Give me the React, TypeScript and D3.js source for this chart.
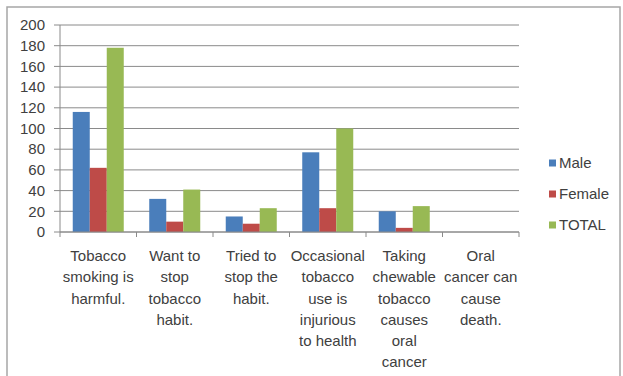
import React from "react";
import * as d3 from "d3";

const categories = [
  "Tobacco smoking is harmful.",
  "Want to stop tobacco habit.",
  "Tried to stop the habit.",
  "Occasional tobacco use is injurious to health",
  "Taking chewable tobacco causes oral cancer",
  "Oral cancer can cause death.",
];
const categoryLines = [
  ["Tobacco", "smoking is", "harmful."],
  ["Want to", "stop", "tobacco", "habit."],
  ["Tried to", "stop the", "habit."],
  ["Occasional", "tobacco", "use is", "injurious", "to health"],
  ["Taking", "chewable", "tobacco", "causes", "oral", "cancer"],
  ["Oral", "cancer can", "cause", "death."],
];
const seriesNames = ["Male", "Female", "TOTAL"];
const male = [116, 32, 15, 77, 20, 0];
const female = [62, 10, 8, 23, 4, 0];
const total = [178, 41, 23, 100, 25, 0];
const yTicks = [0, 20, 40, 60, 80, 100, 120, 140, 160, 180, 200];
const colors = ["#4a7ebb", "#be4b48", "#98b954"];

const FONT = "'Liberation Sans', Arial, sans-serif";

export default function App() {
  const W = 623;
  const H = 376;
  const left = 60;
  const right = 519;
  const top = 25;
  const bottom = 232;
  const values = [male, female, total];

  const x0 = d3.scaleBand<string>().domain(categories).range([left, right]).padding(0);
  const x1 = d3
    .scaleBand<string>()
    .domain(seriesNames)
    .range([0, x0.bandwidth()])
    .paddingInner(0)
    .paddingOuter(0.75);
  const y = d3.scaleLinear().domain([0, 200]).range([bottom, top]);

  const boundaries = d3.range(categories.length + 1).map((i) => left + i * x0.step());

  return (
    <svg
      width={W}
      height={H}
      style={{ position: "absolute", left: 0, top: 0, display: "block", background: "#fff" }}
    >
      <rect x={7} y={7} width={613} height={380} fill="#fff" stroke="#a6a6a6" strokeWidth={1.5} />
      {/* gridlines */}
      {yTicks.map((t) => (
        <line key={t} x1={left - 6} x2={right} y1={y(t)} y2={y(t)} stroke="#8a8a8a" strokeWidth={1} />
      ))}
      {/* y axis */}
      <line x1={left} x2={left} y1={top} y2={bottom} stroke="#8a8a8a" strokeWidth={1} />
      {/* x tick marks */}
      {boundaries.map((bx, i) => (
        <line key={i} x1={bx} x2={bx} y1={bottom} y2={bottom + 5} stroke="#8a8a8a" strokeWidth={1} />
      ))}
      {/* bars */}
      {categories.map((c, ci) => (
        <g key={c} transform={`translate(${x0(c)},0)`}>
          {seriesNames.map((s, si) => {
            const v = values[si][ci];
            return (
              <rect
                key={s}
                x={x1(s)}
                y={y(v)}
                width={x1.bandwidth()}
                height={bottom - y(v)}
                fill={colors[si]}
              />
            );
          })}
        </g>
      ))}
      {/* x axis line */}
      <line x1={left} x2={right} y1={bottom} y2={bottom} stroke="#8a8a8a" strokeWidth={1} />
      {/* y tick labels */}
      {yTicks.map((t) => (
        <text
          key={t}
          x={45}
          y={y(t)}
          dy="0.35em"
          textAnchor="end"
          fontFamily={FONT}
          fontSize={15}
          fill="#404040"
        >
          {t}
        </text>
      ))}
      {/* category labels */}
      {categories.map((c, ci) => (
        <text
          key={c}
          x={(x0(c) as number) + x0.bandwidth() / 2}
          textAnchor="middle"
          fontFamily={FONT}
          fontSize={15}
          fill="#404040"
        >
          {categoryLines[ci].map((ln, li) => (
            <tspan key={li} x={(x0(c) as number) + x0.bandwidth() / 2} y={256 + li * 21.2} dy="0.35em">
              {ln}
            </tspan>
          ))}
        </text>
      ))}
      {/* legend */}
      {seriesNames.map((s, si) => (
        <g key={s} transform={`translate(549,${163 + si * 31})`}>
          <rect x={0} y={-3.5} width={7} height={7} fill={colors[si]} />
          <text x={10} y={0} dy="0.35em" fontFamily={FONT} fontSize={15} fill="#404040">
            {s}
          </text>
        </g>
      ))}
    </svg>
  );
}
